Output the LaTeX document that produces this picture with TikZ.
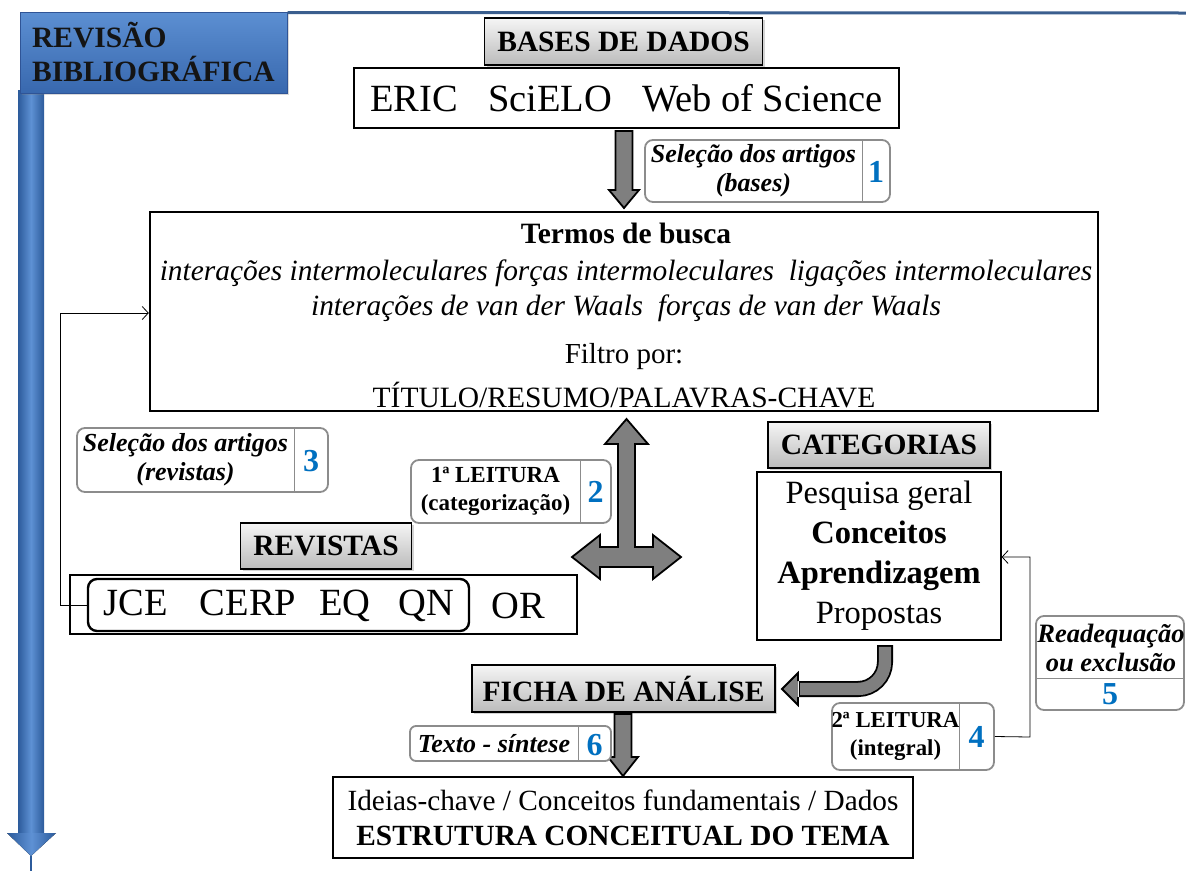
\documentclass[tikz,border=0pt]{standalone}
\usepackage{fontspec}
\setmainfont{Liberation Serif}
\usetikzlibrary{arrows.meta,shadows}
\definecolor{hdrtop}{HTML}{F5F5F5}
\definecolor{hdrbot}{HTML}{BBBBBB}
\definecolor{arrowgray}{HTML}{7F7F7F}
\definecolor{taggray}{HTML}{8C8C8C}
\definecolor{numblue}{HTML}{0070C0}
\definecolor{lineblue}{HTML}{3A5E8E}
\definecolor{bannertop}{HTML}{5C8FD2}
\definecolor{bannerbot}{HTML}{3868AE}
\definecolor{bannerrim}{HTML}{2F5496}
\definecolor{baredge}{HTML}{2C5B9B}
\definecolor{barmid}{HTML}{5E91D4}
\newcommand{\fsz}[2]{\fontsize{#1}{#2}\selectfont}
\begin{document}
\begin{tikzpicture}[x=1pt,y=-1pt,
  hdr/.style={draw=black, line width=1.2pt, top color=hdrtop, bottom color=hdrbot,
    inner sep=0, font=\fsz{29.5}{33}\bfseries,
    drop shadow={shadow xshift=2pt, shadow yshift=-2pt, opacity=0.35}},
  plainbox/.style={draw=black, line width=1.2pt, fill=white, inner sep=0},
  tagbox/.style={draw=taggray, line width=1.8pt, rounded corners=8pt, fill=white, inner sep=0},
  tagtext/.style={inner sep=0, align=center, font=\fsz{26}{29}\bfseries\itshape},
  readtext/.style={inner sep=0, align=center, font=\fsz{23}{28}\bfseries},
  num/.style={inner sep=0, text=numblue, font=\fsz{32}{34}\bfseries},
  divider/.style={draw=taggray, line width=0.8pt},
  blockarrow/.style={fill=arrowgray, draw=black, line width=1.8pt, line join=miter},
  feedback/.style={draw=black, line width=0.8pt, -{Straight Barb[length=6pt,width=13pt]}},
  txt/.style={inner sep=0}]
\useasboundingbox (0,0) rectangle (1186,871);

% ---- timeline bar on the left
\fill[left color=baredge, right color=baredge, middle color=barmid] (18,90) rectangle (44,834);
\fill[left color=baredge, right color=baredge, middle color=barmid] (7,833) -- (56,833) -- (31,856) -- cycle;
\coordinate (bartip) at (31,856);
\coordinate (barend) at (31,871);
\draw[baredge, line width=1.2pt] (bartip) -- (barend);

% ---- banner and top rule
\node[draw=bannerrim, line width=1pt, top color=bannertop, bottom color=bannerbot,
  minimum width=267pt, minimum height=81pt, inner sep=0,
  drop shadow={shadow xshift=2pt, shadow yshift=-2pt, opacity=0.3}] (banner) at (153.5,52.5) {};
\node[anchor=west, align=left, inner sep=0, font=\fsz{29.5}{34}\bfseries, text=black!92] (bannertext) at (32,52) {REVISÃO\\BIBLIOGRÁFICA};
\coordinate (ruleend) at (1186,13);
\draw[lineblue, line width=3pt] (banner.north east) ++(0,1) -- (ruleend);

% ---- databases
\node[hdr, minimum width=278pt, minimum height=47pt] (bases) at (623.5,41.5) {BASES DE DADOS};
\node[plainbox, minimum width=545pt, minimum height=60pt, font=\fsz{38.5}{40}] (eric) at (626.5,98)
  {ERIC\hspace{30pt}SciELO\hspace{30pt}Web of Science};

% arrow down to search terms
\draw[blockarrow] (615.5,131) -- (632.5,131) -- (632.5,190) -- (639,190) -- (624,208) -- (609,190) -- (615.5,190) -- cycle;

% step 1
\node[tagbox, minimum width=245pt, minimum height=62pt] (tag1) at (767.5,171) {};
\draw[divider] (862,141) -- (862,201);
\node[tagtext] (tag1t) at (753.5,171) {Seleção dos artigos\\(bases)};
\node[num] (tag1n) at (876,172) {1};

% ---- search terms
\node[plainbox, line width=2.4pt, minimum width=948pt, minimum height=199pt] (termos) at (624,311.5) {};
\node[txt, font=\fsz{29.5}{32}\bfseries] (t1) at (626,233) {Termos de busca};
\node[txt, font=\fsz{29.4}{32}\itshape] (t2) at (626,273) {interações intermoleculares forças intermoleculares\ \ ligações intermoleculares};
\node[txt, font=\fsz{29.4}{32}\itshape] (t3) at (626,308) {interações de van der Waals\ \ forças de van der Waals};
\node[txt, font=\fsz{29}{32}] (t4) at (624,357) {Filtro por:};
\node[txt, font=\fsz{29.5}{32}] (t5) at (624,395) {TÍTULO/RESUMO/PALAVRAS-CHAVE};

% ---- step 3
\node[tagbox, minimum width=251pt, minimum height=64pt] (tag3) at (202.5,460) {};
\draw[divider] (294,429) -- (294,491);
\node[tagtext] (tag3t) at (185.5,460) {Seleção dos artigos\\(revistas)};
\node[num] (tag3n) at (311,461) {3};

% ---- step 2
\node[tagbox, minimum width=200pt, minimum height=63pt] (tag2) at (511,491.5) {};
\draw[divider] (580,461) -- (580,522);
\node[readtext] (tag2t) at (495.5,491.5) {1ª LEITURA\\(categorização)};
\node[num] (tag2n) at (595.5,492) {2};

% ---- three-way arrow
\draw[blockarrow] (626.5,419) -- (648,444) -- (635,444) -- (635,547) -- (653,547) -- (653,535)
  -- (681,557) -- (653,579) -- (653,567) -- (600,567) -- (600,579) -- (572,557) -- (600,535)
  -- (600,547) -- (618,547) -- (618,444) -- (605,444) -- cycle;

% ---- journals
\node[hdr, minimum width=171pt, minimum height=46pt] (revistas) at (326,546) {REVISTAS};
\node[plainbox, minimum width=507pt, minimum height=59pt] (revbox) at (323.5,604.5) {};
\node[draw=black, line width=2.4pt, rounded corners=9pt, fill=white, inner sep=0,
  minimum width=381pt, minimum height=52pt] (revsel) at (278.5,605) {};
\node[txt, font=\fsz{38.5}{40}] (revnames) at (279,606) {JCE\hspace{32pt}CERP\hspace{23pt}EQ\hspace{28pt}QN};
\node[txt, font=\fsz{38.5}{40}] (revor) at (518,606) {OR};
\coordinate (fb1a) at (60,605);
\coordinate (fb1b) at (60,313);
\draw[feedback] (revsel.west) -- (fb1a) -- (fb1b) -- (termos.west |- fb1b);

% ---- categories
\node[hdr, minimum width=222pt, minimum height=46pt] (cat) at (879,445) {CATEGORIAS};
\node[plainbox, minimum width=244pt, minimum height=168pt, align=center, font=\fsz{32.5}{40}] (catbox) at (879,556)
  {Pesquisa geral\\\textbf{Conceitos}\\\textbf{Aprendizagem}\\Propostas};

% curved arrow to the analysis sheet
\draw[black, line width=16pt, rounded corners=27pt] (885,645) |- (799,689);
\draw[arrowgray, line width=12.4pt, rounded corners=27pt] (885,646.8) |- (800,689);
\fill[arrowgray] (798,673) -- (782,689) -- (798,705) -- cycle;
\draw[black, line width=1.8pt, line join=miter] (798,681) -- (798,673) -- (782,689) -- (798,705) -- (798,697);

% ---- step 5
\node[tagbox, minimum width=148pt, minimum height=94pt] (tag5) at (1110,663) {};
\draw[divider] (1037,678) -- (1183,678);
\node[tagtext, font=\fsz{26.5}{29}\bfseries\itshape] (tag5t) at (1111,648) {Readequação\\ou exclusão};
\node[num] (tag5n) at (1110,694) {5};

% ---- step 4
\node[tagbox, minimum width=162pt, minimum height=67pt] (tag4) at (913,736.5) {};
\draw[divider] (959,704) -- (959,769);
\node[readtext, font=\fsz{22.8}{28}\bfseries] (tag4t) at (895.5,736.5) {2ª LEITURA\\(integral)};
\node[num] (tag4n) at (976.5,737) {4};
\coordinate (fb2a) at (1030,737);
\coordinate (fb2b) at (1030,557);
\draw[feedback] (tag4.east) -- (fb2a) -- (fb2b) -- (catbox.east |- fb2b);

% ---- analysis sheet
\node[hdr, minimum width=303pt, minimum height=47pt] (ficha) at (623.5,688.5) {FICHA DE ANÁLISE};
\draw[blockarrow] (614.5,714) -- (631.5,714) -- (631.5,757) -- (638,757) -- (623,776) -- (608,757) -- (614.5,757) -- cycle;

% step 6
\node[tagbox, rounded corners=6pt, minimum width=201pt, minimum height=35pt] (tag6) at (510.5,743.5) {};
\draw[divider] (578,727) -- (578,760);
\node[tagtext] (tag6t) at (494,743.5) {Texto - síntese};
\node[num] (tag6n) at (594.5,745) {6};

% ---- final structure
\node[plainbox, minimum width=580pt, minimum height=81pt, align=center, font=\fsz{29.3}{35}] (final) at (623,817.5)
  {Ideias-chave / Conceitos fundamentais / Dados\\\textbf{ESTRUTURA CONCEITUAL DO TEMA}};
\end{tikzpicture}
\end{document}
